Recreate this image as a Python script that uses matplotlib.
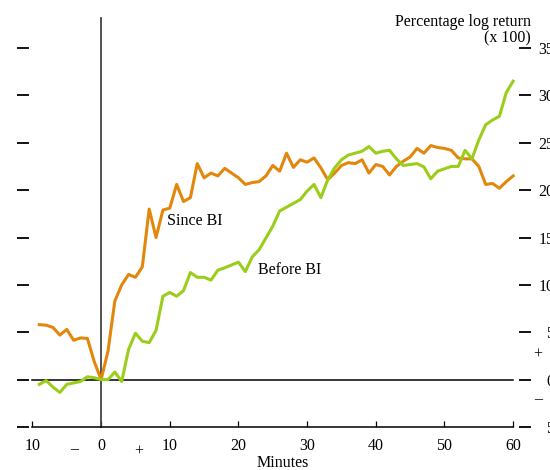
import matplotlib
matplotlib.use('Agg')
import matplotlib.pyplot as plt

plt.rcParams['font.family'] = ['Liberation Serif', 'DejaVu Serif']

# minutes relative to the event
minutes = list(range(-9, 61))

# percentage log return (x 100)
since_bi = [5.8, 5.75, 5.5, 4.7, 5.3, 4.15, 4.4, 4.35, 1.9, 0.0,
            3.0, 8.3, 10.0, 11.1, 10.8, 11.9, 18.0, 15.0, 17.9, 18.1,
            20.6, 18.8, 19.2, 22.8, 21.3, 21.8, 21.5, 22.3, 21.8, 21.3,
            20.6, 20.8, 20.9, 21.5, 22.6, 22.0, 23.9, 22.4, 23.2, 22.95,
            23.4, 22.35, 21.1, 21.8, 22.6, 22.9, 22.8, 23.2, 21.8, 22.7,
            22.5, 21.6, 22.5, 23.05, 23.5, 24.4, 23.9, 24.7, 24.5, 24.4,
            24.2, 23.4, 23.3, 23.3, 22.5, 20.6, 20.7, 20.2, 20.9, 21.5]

before_bi = [-0.5, -0.1, -0.8, -1.35, -0.5, -0.35, -0.2, 0.3, 0.2, 0.0,
             0.0, 0.8, -0.2, 3.2, 4.9, 4.05, 3.9, 5.2, 8.8, 9.2,
             8.8, 9.4, 11.3, 10.8, 10.8, 10.5, 11.55, 11.8, 12.1, 12.4,
             11.4, 12.95, 13.7, 14.95, 16.2, 17.8, 18.2, 18.6, 19.0, 19.9,
             20.6, 19.2, 21.1, 22.35, 23.2, 23.7, 23.9, 24.1, 24.6, 23.9,
             24.1, 24.2, 23.3, 22.6, 22.7, 22.8, 22.45, 21.2, 22.0, 22.25,
             22.5, 22.5, 24.2, 23.3, 25.3, 26.9, 27.4, 27.8, 30.3, 31.5]

x_ticks = [-10, 0, 10, 20, 30, 40, 50, 60]
x_labels = ['10', '0', '10', '20', '30', '40', '50', '60']
y_ticks = [-5, 0, 5, 10, 15, 20, 25, 30, 35]
y_labels = ['5', '0', '5', '10', '15', '20', '25', '30', '35']

fig = plt.figure(figsize=(5.5, 4.7), dpi=100)
ax = fig.add_axes([29 / 550, 1 - 427 / 470, 490 / 550, 379 / 470])

ax.plot(minutes, since_bi, color='#E3870C', lw=2.2, clip_on=False, zorder=3)
ax.plot(minutes, before_bi, color='#9BCD1B', lw=2.2, clip_on=False, zorder=3)

# zero lines
ax.plot([-10, 60], [0, 0], color='black', lw=1.1, zorder=2)
ax.plot([0, 0], [-5, 38.2], color='#444444', lw=1.3, clip_on=False, zorder=2)

ax.set_xlim(-10.5, 60.85)
ax.set_ylim(-5, 35)

for s in ['top', 'left', 'right']:
    ax.spines[s].set_visible(False)
ax.spines['bottom'].set_bounds(-10, 60)
ax.spines['bottom'].set_linewidth(1.1)

ax.set_xticks(x_ticks)
ax.set_xticklabels(x_labels)
ax.tick_params(axis='x', direction='in', length=4.5, width=0.9, pad=8,
               labelsize=11.5)

ax.set_yticks(y_ticks)
ax.set_yticklabels(y_labels)
ax.yaxis.set_ticks_position('both')
ax.tick_params(axis='y', direction='out', length=8.6, width=1.3,
               labelleft=False, labelright=True, pad=17, labelsize=11.5)
for lab in ax.get_yticklabels():
    lab.set_horizontalalignment('right')

ax.set_xlabel('Minutes', fontsize=11.5, va='top')
ax.xaxis.set_label_coords(0.518, -0.075)

# sign markers
ax.text(-3.9, -7.3, '–', ha='center', va='center', fontsize=11.5, clip_on=False)
ax.text(5.5, -7.6, '+', ha='center', va='center', fontsize=11.5, clip_on=False)
ax.text(63.6, 2.6, '+', ha='center', va='center', fontsize=11.5, clip_on=False)
ax.text(63.6, -2.1, '–', ha='center', va='center', fontsize=11.5, clip_on=False)

ax.text(9.6, 16.7, 'Since BI', ha='left', va='center', fontsize=11.5)
ax.text(22.8, 11.6, 'Before BI', ha='left', va='center', fontsize=11.5)

fig.text(531 / 550, 1 - 14 / 470, 'Percentage log return\n(x 100)',
         ha='right', va='top', multialignment='right', fontsize=11.5,
         linespacing=1.0)

fig.savefig('out.png', dpi=100)
